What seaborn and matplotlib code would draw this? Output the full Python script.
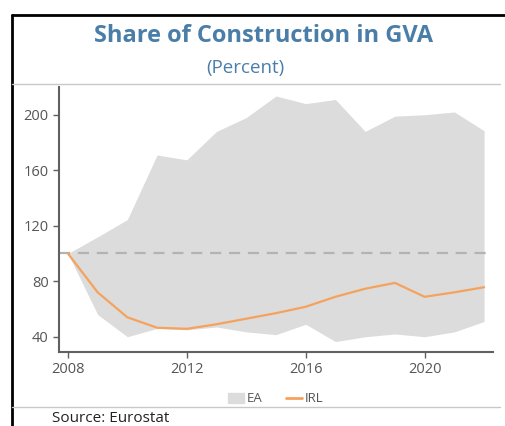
import matplotlib
matplotlib.use('Agg')
import matplotlib.pyplot as plt
import seaborn as sns
import pandas as pd
from matplotlib.patches import Patch
from matplotlib.lines import Line2D

years = list(range(2008, 2023))
ea_max = [100, 112, 124.5, 171, 167.5, 188, 198, 213.5, 208, 211, 188, 199, 200, 202, 188.5]
ea_min = [100, 56, 40, 46, 45, 47, 43.5, 41.5, 49, 36.5, 40, 42, 40, 43.5, 51]
irl = [100, 72, 54, 46.5, 45.7, 49, 53, 57, 61.6, 68.8, 74.6, 78.8, 68.8, 72, 75.7]

df = pd.DataFrame({"year": years, "IRL": irl})

sns.set_style("white")
plt.rcParams['font.family'] = ['Open Sans', 'DejaVu Sans']

W, H = 505, 426
f = plt.figure(figsize=(W / 100, H / 100), dpi=100)

# axes placed in pixel terms
l, r, t, b = 59, 493, 87, 352
ax = f.add_axes([l / W, 1 - b / H, (r - l) / W, (b - t) / H])

grey_fill = '#dcdcdc'
orange = '#f5a25d'
txt = '#555555'

ax.fill_between(years, ea_min, ea_max, color=grey_fill, linewidth=0)
ax.axhline(100, color='#b3b3b3', lw=1.6, ls=(0, (5, 3.5)))
sns.lineplot(data=df, x="year", y="IRL", ax=ax, color=orange, lw=1.6)

ax.set_xlim(2007.7, 2022.3)
ax.set_ylim(29, 220)
ax.set_xticks([2008, 2012, 2016, 2020])
ax.set_yticks([40, 80, 120, 160, 200])
ax.set_xlabel("")
ax.set_ylabel("")
for s in ['top', 'right']:
    ax.spines[s].set_visible(False)
for s in ['left', 'bottom']:
    ax.spines[s].set_color('#606060')
    ax.spines[s].set_linewidth(1.5)
ax.tick_params(axis='both', colors='#606060', labelcolor=txt, labelsize=10.5,
               length=4, width=1, direction='out', left=True, bottom=True)
ax.set_facecolor('none')

# titles
f.text(264 / W, 1 - 36 / H, "Share of Construction in GVA", ha='center', va='center',
       fontsize=17, fontweight='bold', color='#4a7ea8')
f.text(245 / W, 1 - 68 / H, "(Percent)", ha='center', va='center',
       fontsize=13.5, color='#4a7ea8')

# frame lines
f.add_artist(Line2D([12 / W, 1], [1 - 15 / H, 1 - 15 / H], color='black', lw=2))
f.add_artist(Line2D([12 / W, 12 / W], [0, 1 - 15 / H], color='black', lw=2))
f.add_artist(Line2D([12 / W, 500 / W], [1 - 84 / H, 1 - 84 / H], color='#c8c8c8', lw=1))
f.add_artist(Line2D([12 / W, 500 / W], [1 - 407 / H, 1 - 407 / H], color='#c8c8c8', lw=1))

handles = [Patch(color=grey_fill, label='EA'), Line2D([], [], color=orange, lw=2, label='IRL')]
f.legend(handles=handles, loc='center', bbox_to_anchor=(276 / W, 1 - 399 / H), ncol=2,
         frameon=False, fontsize=9.5, handlelength=1.2, handleheight=0.8, handletextpad=0.2,
         columnspacing=1.8, labelcolor=txt)

f.text(52 / W, 1 - 418 / H, "Source: Eurostat", ha='left', va='center', fontsize=11, color='#222222')

f.savefig("out.png", dpi=100)
